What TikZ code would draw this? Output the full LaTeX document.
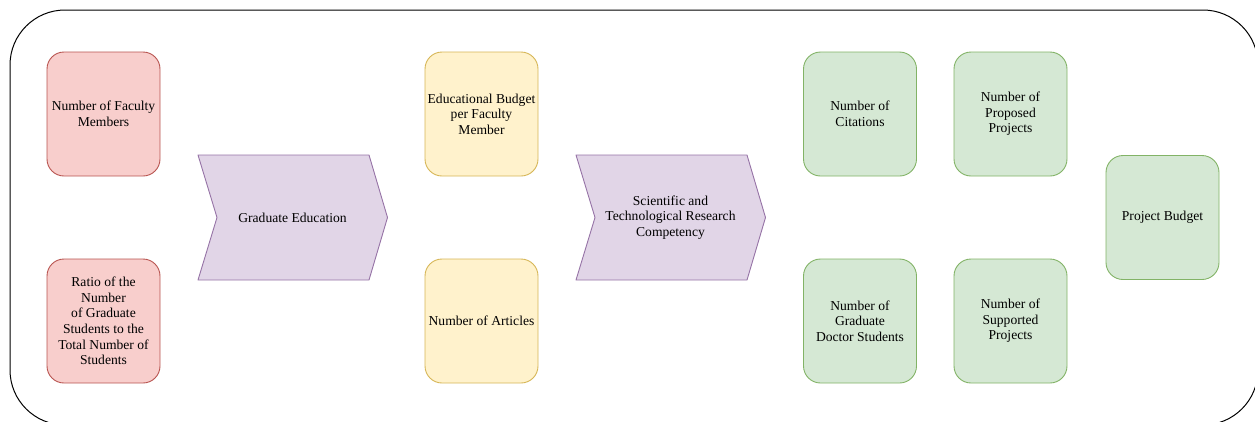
\documentclass[tikz,border=0pt]{standalone}
\usepackage{fontspec}
\setmainfont{Liberation Serif}
\definecolor{redfill}{HTML}{F8CECC}
\definecolor{redline}{HTML}{B85450}
\definecolor{yellowfill}{HTML}{FFF2CC}
\definecolor{yellowline}{HTML}{D6B656}
\definecolor{greenfill}{HTML}{D5E8D4}
\definecolor{greenline}{HTML}{82B366}
\definecolor{purplefill}{HTML}{E1D5E7}
\definecolor{purpleline}{HTML}{9673A6}
\begin{document}
\begin{tikzpicture}[x=1pt,y=-1pt,line join=round,font=\fontsize{13.6}{15.6}\selectfont,
	box/.style={rounded corners=17pt,minimum width=113pt,minimum height=124pt,align=center,inner sep=1pt,line width=0.9pt},
	redbox/.style={box,draw=redline,fill=redfill},
	yellowbox/.style={box,draw=yellowline,fill=yellowfill},
	greenbox/.style={box,draw=greenline,fill=greenfill},
	chevron/.style={draw=purpleline,fill=purplefill,line width=0.9pt}]
	\useasboundingbox (0,0) rectangle (1255,421);
	\clip (0,0) rectangle (1255,421);
	% frame
	\draw[line width=1pt,rounded corners=55pt] (10,10) rectangle (1258,425);
	% inputs
	\node[redbox] (faculty) at (103.5,114) {Number of Faculty\\Members};
	\node[redbox] (ratio) at (103.5,321) {Ratio of the\\Number\\of Graduate\\Students to the\\Total Number of\\Students};
	\node[yellowbox] (budget) at (481.5,114) {Educational Budget\\per Faculty\\Member};
	\node[yellowbox] (articles) at (481.5,321) {Number of Articles};
	% outputs
	\node[greenbox] (citations) at (860,114) {Number of\\Citations};
	\node[greenbox] (doctors) at (860,321) {Number of\\Graduate\\Doctor Students};
	\node[greenbox] (proposed) at (1010.5,114) {Number of\\Proposed\\Projects};
	\node[greenbox] (supported) at (1010.5,321) {Number of\\Supported\\Projects};
	\node[greenbox] (projbudget) at (1162.5,217.5) {Project Budget};
	% stages
	\foreach \xa/\nm/\txt in {198/grad/{Graduate Education},576/research/{Scientific and\\Technological Research\\Competency}}{
		\draw[chevron] (\xa,155) -- ++(171,0) -- ++(18.5,62.5) -- ++(-18.5,62.5) -- ++(-171,0) -- ++(19,-62.5) -- cycle;
		\node[align=center] (\nm) at (\xa+94.5,217.5) {\txt};
	}
\end{tikzpicture}
\end{document}
